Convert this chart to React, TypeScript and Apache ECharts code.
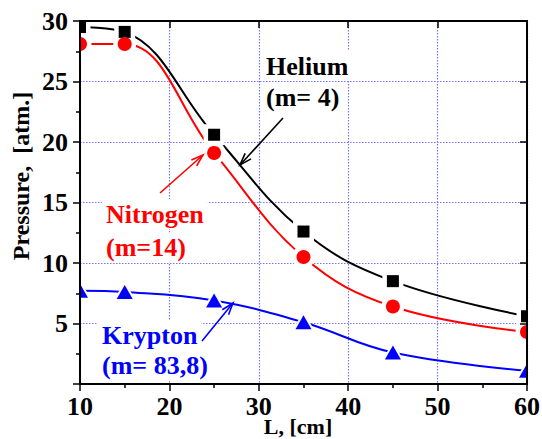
import { useEffect, useRef } from "react";
import * as echarts from "echarts";

// ---- data ----
const lengthsCm = [10, 15, 25, 35, 45, 60];
const heliumAtm = [29.5, 29.1, 20.6, 12.6, 8.5, 5.6];
const nitrogenAtm = [28.1, 28.1, 19.1, 10.5, 6.4, 4.3];
const kryptonAtm = [7.7, 7.6, 6.9, 5.1, 2.6, 1.1];

const xAxisName = "L, [cm]";
const yAxisName = "Pressure,  [atm.]";

const FONT = "Liberation Serif";

type Kind = "square" | "circle" | "triangle";
type Gas = { name: string; values: number[]; color: string; kind: Kind; size: number };

const gases: Gas[] = [
  { name: "Helium", values: heliumAtm, color: "#000000", kind: "square", size: 12 },
  { name: "Nitrogen", values: nitrogenAtm, color: "#ff0000", kind: "circle", size: 14 },
  { name: "Krypton", values: kryptonAtm, color: "#0000ff", kind: "triangle", size: 16 },
];

function shapeFor(kind: Kind, cx: number, cy: number, size: number, fill: string) {
  if (kind === "circle") return { type: "circle", shape: { cx, cy, r: size / 2 }, style: { fill } };
  if (kind === "square")
    return { type: "rect", shape: { x: cx - size / 2, y: cy - size / 2, width: size, height: size }, style: { fill } };
  const h = size * 0.88;
  return {
    type: "polygon",
    shape: { points: [[cx, cy - h / 2], [cx + size / 2, cy + h / 2], [cx - size / 2, cy + h / 2]] },
    style: { fill },
  };
}

function arrow(x1: number, y1: number, x2: number, y2: number, color: string) {
  const dx = x2 - x1, dy = y2 - y1;
  const len = Math.hypot(dx, dy);
  const ux = dx / len, uy = dy / len;
  const hl = 12, hw = 4;
  const bx = x2 - ux * hl, by = y2 - uy * hl;
  const px = -uy * hw, py = ux * hw;
  return [
    { type: "line", shape: { x1, y1, x2, y2 }, style: { stroke: color, lineWidth: 1.6 }, z: 20 },
    {
      type: "polyline",
      shape: { points: [[bx + px, by + py], [x2, y2], [bx - px, by - py]] },
      style: { stroke: color, lineWidth: 1.6, fill: null },
      z: 20,
    },
  ];
}

function label(text: string, x: number, y: number, color: string) {
  return {
    type: "text",
    x,
    y,
    z: 15,
    style: {
      text,
      fill: color,
      fontFamily: FONT,
      fontSize: 26,
      fontWeight: "bold",
      align: "left",
      verticalAlign: "middle",
      textAlign: "left",
      textVerticalAlign: "middle",
      backgroundColor: "#ffffff",
      padding: [2, 4],
    },
  };
}

function axisTitle(text: string, x: number, y: number, size: number, rotation: number) {
  return {
    type: "text",
    x,
    y,
    rotation,
    z: 15,
    style: {
      text,
      fill: "#000",
      fontFamily: FONT,
      fontSize: size,
      fontWeight: "bold",
      align: "center",
      verticalAlign: "middle",
      textAlign: "center",
      textVerticalAlign: "middle",
    },
  };
}

export default function App() {
  const ref = useRef<HTMLDivElement>(null);

  useEffect(() => {
    if (!ref.current) return;
    const chart = echarts.init(ref.current, null, { renderer: "svg" });

    const axisLineStyle = { color: "#000", width: 2 };
    const tickStyle = { color: "#000", width: 1.5 };
    const labelStyle = { color: "#000", fontFamily: FONT, fontWeight: "bold" as const, fontSize: 26 };
    const gridLineStyle = { color: "#7777ff", type: [1.5, 1.5] as number[], width: 1.2 };

    const lineSeries = gases.map((g) => ({
      type: "line",
      name: g.name,
      data: lengthsCm.map((x, i) => [x, g.values[i]]),
      smooth: 0.4,
      showSymbol: false,
      symbol: "none",
      lineStyle: { color: g.color, width: 2 },
      itemStyle: { color: g.color },
      clip: true,
      silent: true,
      z: 2,
      xAxisIndex: 0,
      yAxisIndex: 0,
    }));

    const markerSeries = (halo: boolean) =>
      gases.map((g) => ({
        type: "custom",
        name: g.name + (halo ? "-halo" : "-marker"),
        coordinateSystem: "cartesian2d",
        xAxisIndex: 0,
        yAxisIndex: 0,
        data: lengthsCm.map((x, i) => [x, g.values[i]]),
        encode: { x: 0, y: 1 },
        clip: true,
        silent: true,
        z: halo ? 3 : 4,
        renderItem: (_params: any, api: any) => {
          const p = api.coord([api.value(0), api.value(1)]);
          return shapeFor(g.kind, p[0], p[1], halo ? g.size + 9 : g.size, halo ? "#ffffff" : g.color);
        },
      }));

    chart.setOption({
      animation: false,
      backgroundColor: "#ffffff",
      grid: { left: 80, right: 15, top: 21, bottom: 55, containLabel: false, outerBoundsMode: "none" },
      xAxis: [
        {
          type: "value",
          position: "bottom",
          min: 10,
          max: 60,
          interval: 10,
          z: 10,
          axisLine: { show: true, onZero: false, lineStyle: axisLineStyle },
          axisTick: { show: true, inside: false, length: 7, lineStyle: tickStyle },
          minorTick: { show: true, splitNumber: 2, length: 4, lineStyle: tickStyle },
          axisLabel: { show: true, margin: 9, ...labelStyle },
          splitLine: { show: false },
        },
        {
          type: "value",
          position: "top",
          min: 10,
          max: 60,
          interval: 10,
          z: 10,
          axisLine: { show: true, onZero: false, lineStyle: axisLineStyle },
          axisTick: { show: true, inside: true, length: 7, lineStyle: tickStyle },
          axisLabel: { show: false },
          splitLine: { show: false },
        },
        {
          type: "value",
          position: "bottom",
          min: 10,
          max: 60,
          interval: 10,
          z: 0,
          axisLine: { show: false, onZero: false },
          axisTick: { show: false },
          axisLabel: { show: false },
          splitLine: { show: true, lineStyle: gridLineStyle },
        },
      ],
      yAxis: [
        {
          type: "value",
          position: "left",
          min: 0,
          max: 30,
          interval: 5,
          z: 10,
          axisLine: { show: true, onZero: false, lineStyle: axisLineStyle },
          axisTick: { show: true, inside: false, length: 7, lineStyle: tickStyle },
          minorTick: { show: true, splitNumber: 2, length: 4, lineStyle: tickStyle },
          axisLabel: { show: true, margin: 12, showMinLabel: false, ...labelStyle },
          splitLine: { show: false },
        },
        {
          type: "value",
          position: "right",
          min: 0,
          max: 30,
          interval: 5,
          z: 10,
          axisLine: { show: true, onZero: false, lineStyle: axisLineStyle },
          axisTick: { show: true, inside: true, length: 7, lineStyle: tickStyle },
          axisLabel: { show: false },
          splitLine: { show: false },
        },
        {
          type: "value",
          position: "left",
          min: 0,
          max: 30,
          interval: 5,
          z: 0,
          axisLine: { show: false, onZero: false },
          axisTick: { show: false },
          axisLabel: { show: false },
          splitLine: { show: true, lineStyle: gridLineStyle },
        },
      ],
      series: [...lineSeries, ...markerSeries(true), ...markerSeries(false)],
      graphic: [
        axisTitle(yAxisName, 21, 176, 24, Math.PI / 2),
        axisTitle(xAxisName, 298, 426, 22, 0),
        label("Helium", 262, 66, "#000000"),
        label("(m= 4)", 262, 97.5, "#000000"),
        label("Nitrogen", 102, 214, "#ff0000"),
        label("(m=14)", 102, 247.5, "#ff0000"),
        label("Krypton", 98, 335, "#0000ff"),
        label("(m= 83,8)", 98, 365, "#0000ff"),
        ...arrow(283, 118, 240, 165, "#000000"),
        ...arrow(160, 193, 203, 155, "#ff0000"),
        ...arrow(202, 341, 233, 303, "#0000ff"),
      ],
    });

    return () => chart.dispose();
  }, []);

  return (
    <div
      ref={ref}
      style={{ position: "fixed", left: 0, top: 0, width: 542, height: 439, background: "#fff" }}
    />
  );
}
